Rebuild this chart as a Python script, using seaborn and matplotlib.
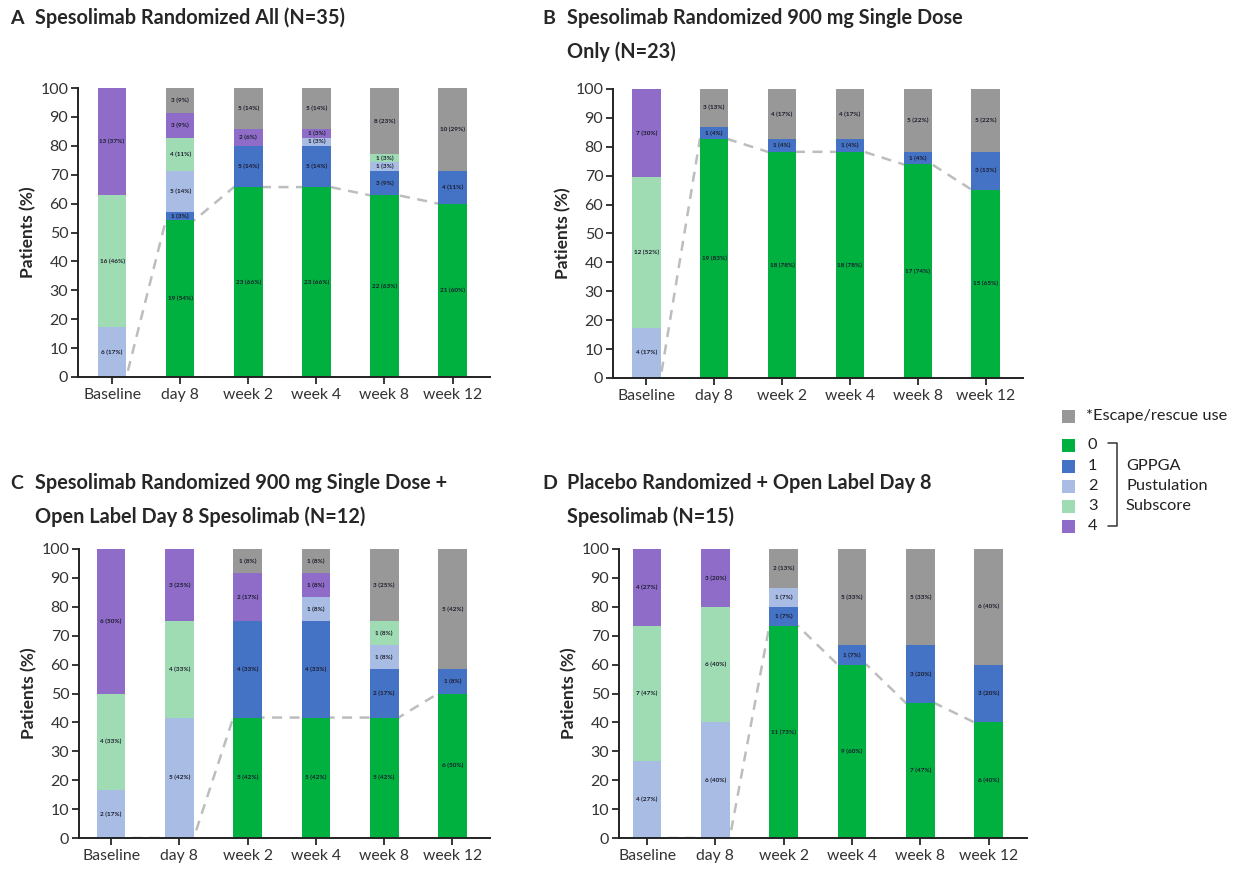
import numpy as np
import pandas as pd
import matplotlib
matplotlib.use("Agg")
import matplotlib.pyplot as plt
import seaborn as sns

sns.set_style("ticks")
plt.rcParams["font.family"] = ["Lato", "DejaVu Sans"]

# Time points on the x axis
timepoints = ["Baseline", "day 8", "week 2", "week 4", "week 8", "week 12"]

# Stacking order (bottom to top) and colours
categories = ["0", "1", "2", "3", "4", "*Escape/rescue use"]
cat_colors = ["#00b140", "#4472c4", "#a8bce4", "#9fdcb3", "#8e6cc8", "#989898"]

# Panel A: Spesolimab randomized, all (N=35) -- patient counts per time point
a_total = 35
a_score0 = [0, 19, 23, 23, 22, 21]
a_score1 = [0, 1, 5, 5, 3, 4]
a_score2 = [6, 5, 0, 1, 1, 0]
a_score3 = [16, 4, 0, 0, 1, 0]
a_score4 = [13, 3, 2, 1, 0, 0]
a_escape = [0, 3, 5, 5, 8, 10]

# Panel B: 900 mg single dose only (N=23)
b_total = 23
b_score0 = [0, 19, 18, 18, 17, 15]
b_score1 = [0, 1, 1, 1, 1, 3]
b_score2 = [4, 0, 0, 0, 0, 0]
b_score3 = [12, 0, 0, 0, 0, 0]
b_score4 = [7, 0, 0, 0, 0, 0]
b_escape = [0, 3, 4, 4, 5, 5]

# Panel C: 900 mg single dose + open label day 8 (N=12)
c_total = 12
c_score0 = [0, 0, 5, 5, 5, 6]
c_score1 = [0, 0, 4, 4, 2, 1]
c_score2 = [2, 5, 0, 1, 1, 0]
c_score3 = [4, 4, 0, 0, 1, 0]
c_score4 = [6, 3, 2, 1, 0, 0]
c_escape = [0, 0, 1, 1, 3, 5]

# Panel D: placebo randomized + open label day 8 (N=15)
d_total = 15
d_score0 = [0, 0, 11, 9, 7, 6]
d_score1 = [0, 0, 1, 1, 3, 3]
d_score2 = [4, 6, 1, 0, 0, 0]
d_score3 = [7, 6, 0, 0, 0, 0]
d_score4 = [4, 3, 0, 0, 0, 0]
d_escape = [0, 0, 2, 5, 5, 6]

panels = [
    dict(letter="A", title=["Spesolimab Randomized All (N=35)"], total=a_total,
         counts=[a_score0, a_score1, a_score2, a_score3, a_score4, a_escape]),
    dict(letter="B", title=["Spesolimab Randomized 900 mg Single Dose", "Only (N=23)"],
         total=b_total, counts=[b_score0, b_score1, b_score2, b_score3, b_score4, b_escape]),
    dict(letter="C", title=["Spesolimab Randomized 900 mg Single Dose +",
                            "Open Label Day 8 Spesolimab (N=12)"],
         total=c_total, counts=[c_score0, c_score1, c_score2, c_score3, c_score4, c_escape]),
    dict(letter="D", title=["Placebo Randomized + Open Label Day 8", "Spesolimab (N=15)"],
         total=d_total, counts=[d_score0, d_score1, d_score2, d_score3, d_score4, d_escape]),
]

W, H = 1238, 875
fig = plt.figure(figsize=(W / 100, H / 100), dpi=100)


def px_rect(left, top, right, bottom):
    return [left / W, 1 - bottom / H, (right - left) / W, (bottom - top) / H]


axes_boxes = [
    px_rect(78, 88, 490, 377),
    px_rect(613, 89, 1023, 378),
    px_rect(79, 549, 490, 838),
    px_rect(619, 549, 1027, 838),
]
xlims = [(-0.5, 5.55), (-0.49, 5.55), (-0.47, 5.55), (-0.41, 5.56)]
title_pos = [(10, 18), (542, 18), (10, 483), (542, 483)]

bar_w = 0.42

for panel, box, xlim, (tx, ty) in zip(panels, axes_boxes, xlims, title_pos):
    ax = fig.add_axes(box)
    n_total = panel["total"]
    counts = np.array(panel["counts"], dtype=float)
    pct = counts / n_total * 100
    cum = np.cumsum(pct, axis=0)

    # Dashed line joining the top of the score-0 segments, drawn beneath the bars
    green = pct[0]
    xs, ys = [], []
    for i, g in enumerate(green):
        xs += [i - bar_w / 2, i + bar_w / 2]
        ys += [g, g]
    ax.plot(xs, ys, ls=(0, (4, 3)), color="#bdbdbd", lw=1.8, zorder=0.5)

    # Stacked bars: draw cumulative heights from the top category downwards
    for k in range(len(categories) - 1, -1, -1):
        df = pd.DataFrame({"time": timepoints, "value": cum[k]})
        sns.barplot(data=df, x="time", y="value", order=timepoints, color=cat_colors[k],
                    saturation=1, width=bar_w, errorbar=None, ax=ax, zorder=2,
                    linewidth=0)

    # Segment labels "n (p%)"
    for k in range(len(categories)):
        for i in range(len(timepoints)):
            n = int(counts[k, i])
            if n == 0:
                continue
            bottom = cum[k, i] - pct[k, i]
            ax.text(i, bottom + pct[k, i] / 2, f"{n} ({pct[k, i]:.0f}%)",
                    ha="center", va="center", fontsize=4.6, color="#1a1a2a",
                    fontweight="bold", zorder=5)

    ax.set_xlim(*xlim)
    ax.set_ylim(0, 100)
    ax.set_yticks(np.arange(0, 101, 10))
    ax.tick_params(axis="y", labelsize=11.5, length=5, width=1.3, pad=2,
                   labelcolor="#333333")
    ax.tick_params(axis="x", labelsize=11.3, length=5, width=1.3, pad=3,
                   labelcolor="#333333")
    ax.set_xlabel("")
    ax.set_ylabel("Patients (%)", fontsize=12.5, fontweight="bold", labelpad=3)
    for s in ["top", "right"]:
        ax.spines[s].set_visible(False)
    for s in ["left", "bottom"]:
        ax.spines[s].set_linewidth(1.4)
        ax.spines[s].set_color("#222222")

    # Panel title with letter
    fig.text(tx / W, 1 - ty / H, panel["letter"], fontsize=14, fontweight="bold",
             va="center", ha="left")
    for j, line in enumerate(panel["title"]):
        fig.text((tx + 25) / W, 1 - (ty + 34 * j) / H, line, fontsize=14.3,
                 fontweight="bold", va="center", ha="left")

# Legend drawn on an overlay in pixel coordinates
lax = fig.add_axes([0, 0, 1, 1])
lax.set_xlim(0, W)
lax.set_ylim(H, 0)
lax.axis("off")
legend_rows = [416, 445, 466, 486, 506, 526]
legend_order = [5, 0, 1, 2, 3, 4]
for y, k in zip(legend_rows, legend_order):
    lax.add_patch(plt.Rectangle((1062, y - 6.5), 13, 13, color=cat_colors[k], lw=0))
    lax.text(1086 if k == 5 else 1088, y, categories[k], fontsize=11.8, va="center",
             ha="left", color="#222222")
lax.plot([1108, 1117, 1117, 1108], [443, 443, 526, 526], color="#333333", lw=1.1)
for y, label in zip([466, 486, 506], ["GPPGA", "Pustulation", "Subscore"]):
    lax.text(1126, y, label, fontsize=11.8, va="center", ha="left", color="#222222")

fig.savefig("out.png", dpi=100)
